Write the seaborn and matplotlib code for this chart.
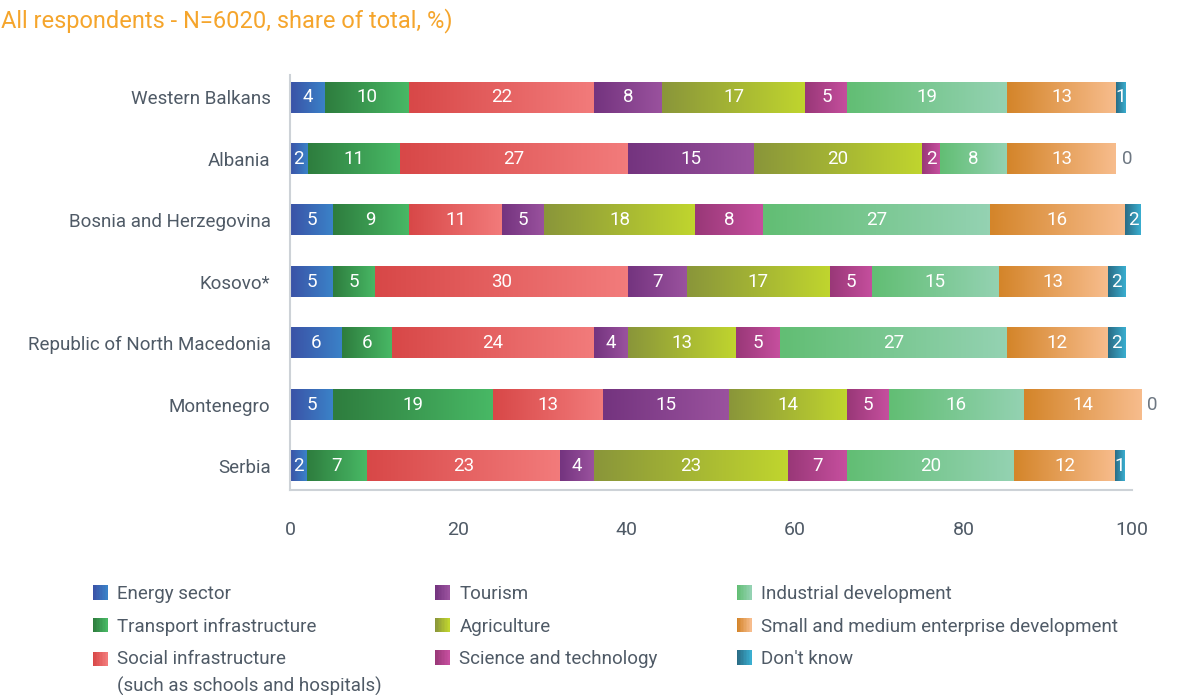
import numpy as np
import pandas as pd
import matplotlib
matplotlib.use("Agg")
import matplotlib.pyplot as plt
import seaborn as sns
from matplotlib.colors import LinearSegmentedColormap, to_rgb
from matplotlib.patches import Patch, Rectangle
from matplotlib.legend_handler import HandlerBase

# ---------------- data ----------------
countries = ["Western Balkans", "Albania", "Bosnia and Herzegovina", "Kosovo*",
             "Republic of North Macedonia", "Montenegro", "Serbia"]

energy      = [4.2, 2.1, 5.1, 5.1, 6.2, 5.1, 2.0]
transport   = [9.9, 11.0, 9.0, 5.0, 5.9, 19.0, 7.1]
social      = [22.0, 27.0, 11.1, 30.0, 24.0, 13.1, 23.0]
tourism     = [8.1, 15.0, 5.0, 7.0, 4.0, 14.9, 4.0]
agriculture = [17.0, 20.0, 17.9, 17.0, 12.9, 14.1, 23.0]
science     = [5.0, 2.1, 8.1, 5.0, 5.2, 4.9, 7.0]
industrial  = [19.0, 8.0, 26.9, 15.1, 27.0, 16.1, 19.9]
sme         = [12.9, 12.9, 16.1, 12.9, 11.9, 13.9, 12.0]
dont_know   = [1.1, 0.0, 1.9, 2.1, 2.1, 0.0, 1.1]

sectors = ["Energy sector", "Transport infrastructure",
           "Social infrastructure\n(such as schools and hospitals)",
           "Tourism", "Agriculture", "Science and technology",
           "Industrial development", "Small and medium enterprise development",
           "Don't know"]
series = [energy, transport, social, tourism, agriculture, science,
          industrial, sme, dont_know]

# gradient colours (left, right) per sector
grads = [("#3a52a6", "#3b82c8"), ("#2e7d3e", "#48b865"), ("#d84848", "#f27b7b"),
         ("#74347f", "#9a529e"), ("#8a963a", "#c0d52e"), ("#993878", "#c64f9e"),
         ("#62be74", "#94d2b2"), ("#d4852a", "#f7bc8c"), ("#2a6c85", "#3aaed0")]

TXT = "#4f5a66"
FS = 13.5
LSP = 1.55

sns.set_theme(style="white")
plt.rcParams["font.family"] = ["Roboto", "DejaVu Sans"]

fig = plt.figure(figsize=(11.8, 6.95), dpi=100)
ax = fig.add_axes([290 / 1180, 1 - 490 / 695, (1132 - 290) / 1180, (490 - 75) / 695])

df = pd.DataFrame({"country": countries})
left = np.zeros(len(countries))
for name, vals, (c0, c1) in zip(sectors, series, grads):
    df["value"] = vals
    n0 = len(ax.patches)
    sns.barplot(data=df, x="value", y="country", orient="h", left=left.copy(),
                width=0.5, color=c0, saturation=1, errorbar=None, ax=ax)
    cmap = LinearSegmentedColormap.from_list(name, [c0, c1])
    for p in ax.patches[n0:]:
        x0, y0 = p.get_x(), p.get_y()
        w, h = p.get_width(), p.get_height()
        p.set_visible(False)
        if w <= 0:
            continue
        im = ax.imshow(np.linspace(0, 1, 64).reshape(1, -1), cmap=cmap, aspect="auto",
                       extent=[x0, x0 + w, y0 + h, y0], interpolation="bilinear", zorder=2)
        im.set_clip_on(False)
    for i, v in enumerate(vals):
        if v > 0:
            ax.text(left[i] + v / 2, i, f"{v:.0f}", ha="center", va="center",
                    color="white", fontsize=FS, zorder=3)
        else:
            ax.text(left[i] + 0.7, i, "0", ha="left", va="center",
                    color="#6d7782", fontsize=FS, zorder=3, clip_on=False)
    left += np.array(vals)

ax.set_xlim(0, 100)
ax.set_ylim(6.39, -0.36)
ax.set_xticks([0, 20, 40, 60, 80, 100])
ax.set_xlabel("")
ax.set_ylabel("")
sns.despine(ax=ax, top=True, right=True)
for s in ["left", "bottom"]:
    ax.spines[s].set_color("#cdd2d7")
    ax.spines[s].set_linewidth(1.5)
ax.tick_params(axis="x", direction="in", length=10, width=1.3, color="#cdd2d7",
               labelsize=14, labelcolor=TXT, pad=22)
ax.tick_params(axis="y", length=0, labelsize=FS, labelcolor=TXT, pad=14)

# subtitle (top of the original figure is cropped)
fig.text(1 / 1180, 1 - 21 / 695, "All respondents - N=6020, share of total, %)",
         color="#f5a52c", fontsize=17, ha="left", va="center")


class GradHandler(HandlerBase):
    def create_artists(self, legend, orig_handle, xdescent, ydescent, width,
                       height, fontsize, trans):
        c0, c1 = grad_of[orig_handle.get_label()]
        side = 10.5
        nlines = orig_handle.get_label().count("\n") + 1
        x0 = -xdescent
        y0 = -ydescent + (height - side) / 2 + (nlines - 1) * LSP * fontsize / 2
        arts = []
        n = 10
        for k in range(n):
            t = k / (n - 1)
            col = tuple((1 - t) * a + t * b for a, b in zip(to_rgb(c0), to_rgb(c1)))
            r = Rectangle((x0 + side * k / n, y0), side / n + 0.2, side,
                          facecolor=col, edgecolor="none", transform=trans)
            arts.append(r)
        return arts


grad_of = dict(zip(sectors, grads))
handles = [Patch(label=s) for s in sectors]
col_x = [93, 435, 737]
for c in range(3):
    leg = fig.legend(handles=handles[c * 3:(c + 1) * 3], loc="upper left",
                     bbox_to_anchor=(col_x[c] / 1180, 1 - 585 / 695),
                     frameon=False, fontsize=FS, labelcolor=TXT,
                     handler_map={Patch: GradHandler()}, handlelength=0.78,
                     handleheight=0.78, handletextpad=0.52, labelspacing=0.78,
                     borderpad=0, borderaxespad=0)
    for t in leg.get_texts():
        t.set_linespacing(LSP)

fig.savefig("out.png", dpi=100)
